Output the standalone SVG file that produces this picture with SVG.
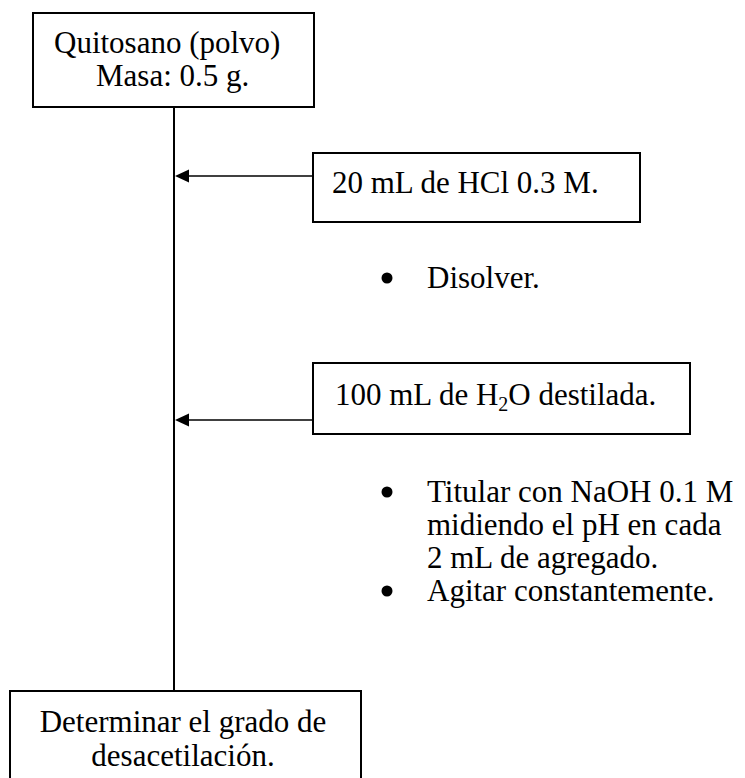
<svg xmlns="http://www.w3.org/2000/svg" width="745" height="778" viewBox="0 0 745 778">
<style>
.box{fill:#fff;stroke:#000;stroke-width:2}
.t{font-family:"Liberation Serif","Times New Roman",serif;font-size:31px;fill:#000}
.ln{stroke:#000;stroke-width:2;fill:none}
.sh{stroke:#000;stroke-width:1.6;fill:none}
</style>
<rect width="745" height="778" fill="#fff"/>
<g id="connectors">
<line class="ln" x1="174" y1="107" x2="174" y2="691"/>
<line class="sh" x1="186" y1="176" x2="313" y2="176"/>
<polygon points="175,176 189,169.5 189,182.5" fill="#000"/>
<line class="sh" x1="186" y1="420" x2="313" y2="420"/>
<polygon points="175,420 189,413.5 189,426.5" fill="#000"/>
</g>
<g id="node-quitosano">
<rect class="box" x="33" y="13" width="281" height="94"/>
<text class="t" x="54" y="53">Quitosano (polvo)</text>
<text class="t" x="96" y="86">Masa: 0.5 g.</text>
</g>
<g id="node-hcl">
<rect class="box" x="313" y="153" width="327" height="69"/>
<text class="t" x="332" y="193">20 mL de HCl 0.3 M.</text>
</g>
<g id="note-disolver">
<circle cx="387" cy="278" r="5.5" fill="#000"/>
<text class="t" x="427" y="288">Disolver.</text>
</g>
<g id="node-h2o">
<rect class="box" x="313" y="363" width="377" height="71"/>
<text class="t" x="335" y="405">100 mL de H<tspan font-size="20" dy="6">2</tspan><tspan dy="-6">O destilada.</tspan></text>
</g>
<g id="note-titular">
<circle cx="387" cy="492" r="5.5" fill="#000"/>
<text class="t" x="427" y="502">Titular con NaOH 0.1 M</text>
<text class="t" x="427" y="535">midiendo el pH en cada</text>
<text class="t" x="427" y="568">2 mL de agregado.</text>
<circle cx="387" cy="591" r="5.5" fill="#000"/>
<text class="t" x="427" y="601">Agitar constantemente.</text>
</g>
<g id="node-determinar">
<rect class="box" x="10" y="691" width="351" height="110"/>
<text class="t" x="183" y="732" text-anchor="middle">Determinar el grado de</text>
<text class="t" x="183" y="766" text-anchor="middle">desacetilación.</text>
</g>
</svg>
